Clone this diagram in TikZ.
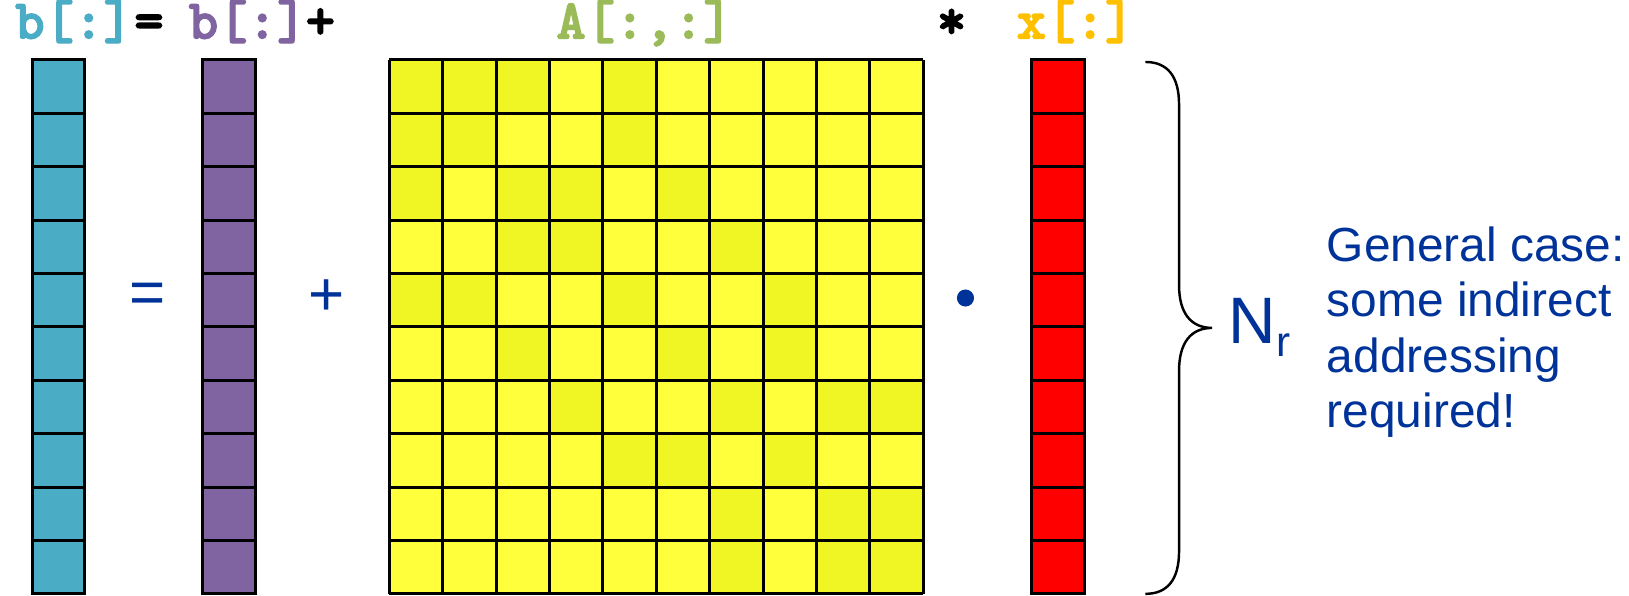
\documentclass[tikz,border=0pt]{standalone}
\usepackage{fontspec}
\setmainfont{Liberation Sans}
\newfontfamily\codefont{lmmonolt10-bold}[Extension=.otf, FakeBold=2.5]
\definecolor{vecblue}{RGB}{75,172,198}
\definecolor{vecpurple}{RGB}{128,100,162}
\definecolor{labgreen}{RGB}{155,187,89}
\definecolor{labgold}{RGB}{255,192,0}
\definecolor{txtblue}{RGB}{0,51,153}
\definecolor{cellA}{RGB}{255,255,59}
\definecolor{cellB}{RGB}{240,245,36}

\begin{document}
\begin{tikzpicture}[
  gridline/.style={line width=1.6pt, draw=black},
  codelabel/.style={inner sep=0pt, anchor=base, text height=0.55cm, text depth=0.15cm,
    font=\fontsize{29.8}{32}\selectfont\codefont},
  opsign/.style={inner sep=0pt, text=txtblue, font=\fontsize{33}{36}\selectfont},
  notetext/.style={inner sep=0pt, text=txtblue, align=left, font=\fontsize{25.5}{29.5}\selectfont}
]
\useasboundingbox (0,0) rectangle (30.506,11.161);

% the three vectors
\fill[vecblue] (0.6,0.04) rectangle (1.58,10.04);
\fill[vecpurple] (3.8,0.04) rectangle (4.78,10.04);
\fill[red] (19.32,0.04) rectangle (20.3,10.04);
\foreach \x in {0.6,3.8,19.32}{
  \foreach \i in {1,...,9}
    \draw[gridline] (\x,0.04+\i) -- (\x+0.98,0.04+\i);
  \draw[gridline] (\x,0.04) rectangle (\x+0.98,10.04);
}

% the matrix
\begin{scope}[shift={(7.29,0.04)}]
  \fill[cellA] (0,0) rectangle (10,10);
  \foreach \c/\r in {0/0,1/0,2/0,4/0, 0/1,1/1,4/1, 0/2,2/2,3/2,5/2, 2/3,3/3,6/3,
                     0/4,1/4,4/4,7/4, 2/5,5/5,7/5, 3/6,6/6,8/6,9/6, 4/7,5/7,7/7,
                     6/8,8/8,9/8, 6/9,8/9,9/9}
    \fill[cellB] (\c,9-\r) rectangle ++(1,1);
  \draw[gridline] (0,0) grid (10,10);
\end{scope}

% labels on top
\node[codelabel, anchor=base west, text=vecblue] (lhs) at (0.28,10.44) {b[:]};
\node[codelabel] (eqtop) at (2.79,10.44) {=};
\node[codelabel, anchor=base west, text=vecpurple] (rhsb) at (3.53,10.44) {b[:]};
\node[codelabel] (plustop) at (6.0,10.44) {+};
\node[codelabel, text=labgreen] (amat) at (12.07,10.44) {A[:,:]};
\node[codelabel] (startop) at (17.82,10.44) {*};
\node[codelabel, text=labgold] (xvec) at (20.14,10.44) {x[:]};

% operators between the blocks
\node[opsign] (eqmid) at (2.77,5.58) {=};
\node[opsign] (plusmid) at (6.11,5.58) {+};
\node[circle, fill=txtblue, inner sep=0pt, minimum size=0.32cm] (dotmid) at (18.08,5.58) {};

% brace and note
\draw[line width=1.3pt] (21.45,10.0) .. controls (21.85,10.0) and (22.08,9.75) .. (22.08,9.2)
  -- (22.08,5.82) .. controls (22.08,5.3) and (22.3,5.02) .. (22.70,5.02)
  .. controls (22.3,5.02) and (22.08,4.74) .. (22.08,4.22)
  -- (22.08,0.84) .. controls (22.08,0.29) and (21.85,0.04) .. (21.45,0.04);
\node[opsign, anchor=base west, font=\fontsize{35}{38}\selectfont] (nr) at (23.0,4.72) {N\raisebox{-0.24cm}{\fontsize{22.5}{24}\selectfont r}};
\node[notetext, anchor=west] (note) at (24.84,4.94) {General case:\\some indirect\\addressing\\required!};
\end{tikzpicture}
\end{document}
